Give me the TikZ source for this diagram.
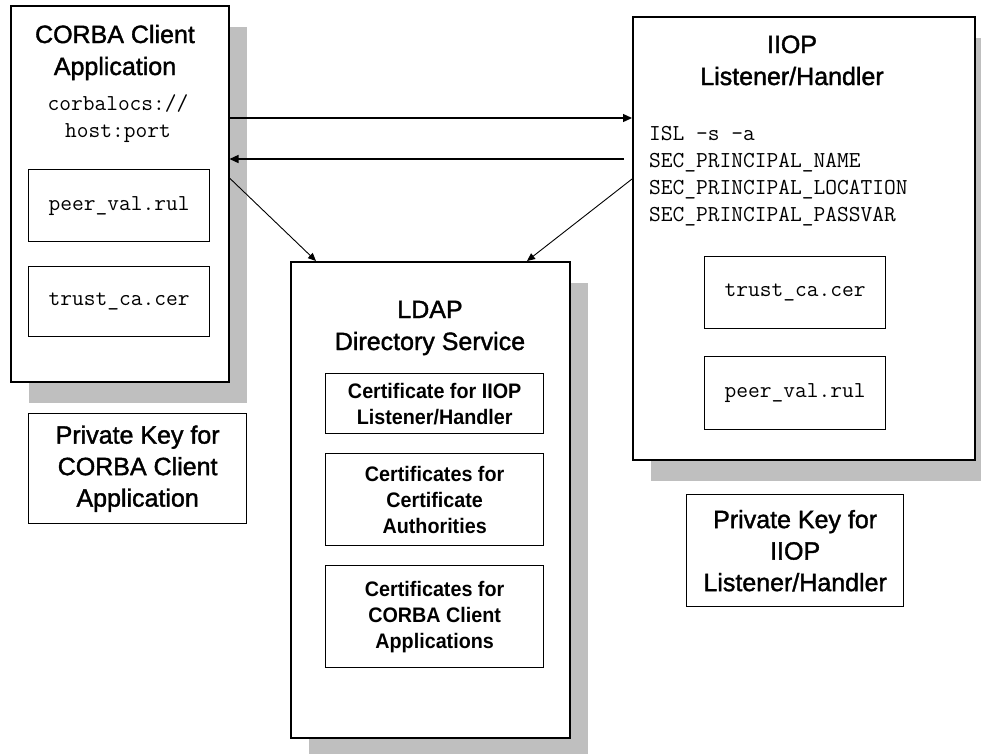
\documentclass[tikz,border=0pt]{standalone}
\usepackage{fontspec}
\setmainfont{Liberation Sans}
\newfontfamily\titlefont[FakeBold=1.5]{Liberation Sans}
\newfontfamily\certfont[FakeStretch=0.94]{Liberation Sans Bold}
\usetikzlibrary{arrows.meta,shadows,calc}

\begin{document}
\begin{tikzpicture}[x=1pt,y=-1pt,
    panel/.style={draw,line width=1.5pt,fill=white,anchor=north west,inner sep=0pt,
      drop shadow={shadow xshift=18pt,shadow yshift=-21pt,draw=none,fill=gray!50,opacity=1}},
    filebox/.style={draw,line width=1.3pt,anchor=north west,inner sep=0pt,font=\fontsize{22.8}{25}\ttfamily},
    certbox/.style={draw,line width=1.3pt,anchor=north west,inner sep=0pt,align=center,
      font=\certfont\fontsize{21}{26}\selectfont},
    keybox/.style={draw,line width=1.3pt,anchor=north west,inner sep=0pt,align=center,
      font=\titlefont\fontsize{25}{31.5}\selectfont},
    headline/.style={anchor=base,align=center,inner sep=0pt,font=\titlefont\fontsize{25}{32}\selectfont},
    cmdtext/.style={inner sep=0pt,font=\fontsize{22.8}{27}\ttfamily},
    link/.style={line width=1.3pt,-{Triangle[length=9pt,width=8pt]}},
    feed/.style={line width=0.9pt,-{Triangle[length=8pt,width=7pt]}}]
  \useasboundingbox (0,0) rectangle (981,753);

  % client side
  \node[panel,minimum width=218pt,minimum height=376pt] (client) at (10,5) {};
  \node[headline] (clienttitle) at (115,75) {CORBA Client\\Application};
  \node[cmdtext,align=center,anchor=base] (clientloc) at (118,137) {corbalocs://\\host:port};
  \node[filebox,minimum width=181pt,minimum height=72pt] (clientpeer) at (28,169) {peer\_val.rul};
  \node[filebox,minimum width=181pt,minimum height=70pt] (clienttrust) at (28,266) {trust\_ca.cer};
  \node[keybox,minimum width=218pt,minimum height=110pt] (clientkey) at (28,413)
    {Private Key for\\CORBA Client\\Application};

  % listener side
  \node[panel,minimum width=342pt,minimum height=443pt] (iiop) at (632,16) {};
  \node[headline] (iioptitle) at (792,85) {IIOP\\Listener/Handler};
  \node[cmdtext,align=left,anchor=base west] (iiopcmd) at (649,221)
    {ISL -s -a\\SEC\_PRINCIPAL\_NAME\\SEC\_PRINCIPAL\_LOCATION\\SEC\_PRINCIPAL\_PASSVAR};
  \node[filebox,minimum width=181pt,minimum height=72pt] (iioptrust) at (704,256) {trust\_ca.cer};
  \node[filebox,minimum width=181pt,minimum height=73pt] (iiopeer) at (704,356) {peer\_val.rul};
  \node[keybox,minimum width=217pt,minimum height=112pt] (iiopkey) at (686,494)
    {Private Key for\\IIOP\\Listener/Handler};

  % directory
  \node[panel,minimum width=279pt,minimum height=476pt] (ldap) at (290,261) {};
  \node[headline] (ldaptitle) at (430,350) {LDAP\\Directory Service};
  \node[certbox,minimum width=218pt,minimum height=60pt] (certiiop) at (325,373)
    {Certificate for IIOP\\Listener/Handler};
  \node[certbox,minimum width=218pt,minimum height=92pt] (certca) at (325,453)
    {Certificates for\\Certificate\\Authorities};
  \node[certbox,minimum width=218pt,minimum height=102pt] (certclient) at (325,565)
    {Certificates for\\CORBA Client\\Applications};

  % connections
  \draw[link] (client.east |- 0,118) -- (iiop.west |- 0,118);
  \draw[link] ($(iiop.west |- 0,159)+(-8,0)$) -- (client.east |- 0,159);
  \draw[feed] (client.east |- 0,178) -- (ldap.north -| 316,0);
  \draw[feed] (iiop.west |- 0,179) -- (ldap.north -| 527,0);
\end{tikzpicture}
\end{document}
